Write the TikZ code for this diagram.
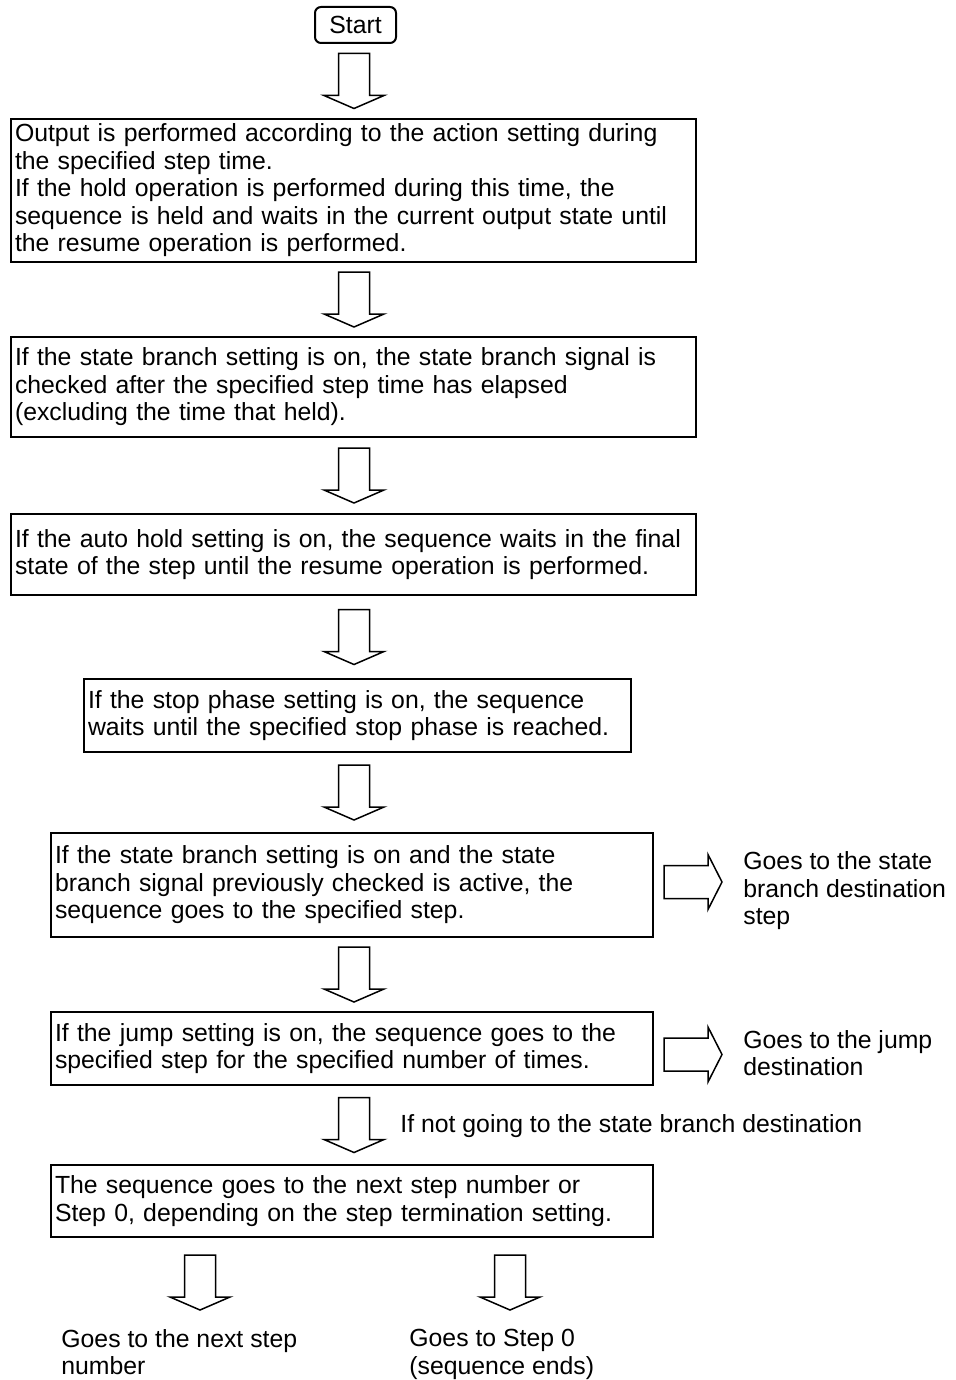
\documentclass[tikz,border=0pt]{standalone}
\usepackage{fontspec}
\setmainfont{Liberation Sans}
\usetikzlibrary{positioning, calc}

\begin{document}
\begin{tikzpicture}[x=0.5pt, y=-0.5pt,
  txt/.style={font={\fontsize{12.4}{13.75}\selectfont}},
  box/.style={txt, draw, line width=1pt, align=left, anchor=north west, inner xsep=2pt, inner ysep=0pt},
  lbl/.style={txt, align=left, anchor=west, inner sep=0pt},
  blockdown/.pic={
    \draw[line width=0.75pt, fill=white] (-15.5,-27.5) -- (15.5,-27.5) -- (15.5,14.5) -- (30,14.5)
      -- (0,27.5) -- (-30,14.5) -- (-15.5,14.5) -- cycle;
  },
  blockright/.pic={
    \draw[line width=0.75pt, fill=white] (0,-16.5) -- (44,-16.5) -- (44,-27.5) -- (58,0)
      -- (44,27.5) -- (44,16.5) -- (0,16.5) -- cycle;
  }]
  % Page frame
  \useasboundingbox (0,0) rectangle (956,1380);

  % Start
  \node[txt, draw, line width=1pt, rounded corners=3pt, minimum width=40.5pt, minimum height=18pt, inner sep=0pt] (start) at (355.5,25) {Start};

  % Step boxes
  \node[box, text width=338.5pt, minimum height=71.5pt] (b1) at (10,118)
    {Output is performed according to the action setting during\\the specified step time.\\If the hold operation is performed during this time, the\\sequence is held and waits in the current output state until\\the resume operation is performed.};
  \node[box, text width=338.5pt, minimum height=50pt] (b2) at (10,336)
    {If the state branch setting is on, the state branch signal is\\checked after the specified step time has elapsed\\(excluding the time that held).};
  \node[box, text width=338.5pt, minimum height=40.5pt] (b3) at (10,513)
    {If the auto hold setting is on, the sequence waits in the final\\state of the step until the resume operation is performed.};
  \node[box, text width=269.5pt, minimum height=36.5pt] (b4) at (83,678)
    {If the stop phase setting is on, the sequence\\waits until the specified stop phase is reached.};
  \node[box, text width=297pt, minimum height=52pt] (b5) at (50,832)
    {If the state branch setting is on and the state\\branch signal previously checked is active, the\\sequence goes to the specified step.};
  \node[box, text width=297pt, minimum height=36.5pt] (b6) at (50,1011)
    {If the jump setting is on, the sequence goes to the\\specified step for the specified number of times.};
  \node[box, text width=297pt, minimum height=36pt] (b7) at (50,1164)
    {The sequence goes to the next step number or\\Step 0, depending on the step termination setting.};

  % Block arrows down the column
  \coordinate (col) at (354,0);
  \foreach \a/\b in {start/b1, b1/b2, b2/b3, b3/b4, b4/b5, b5/b6, b6/b7} {
    \coordinate (m) at ($(\a.south)!0.5!(\b.north)$);
    \pic at (col |- m) {blockdown};
  }

  % Side exits
  \pic at ($(b5.east)+(10,-3)$) {blockright};
  \pic at ($(b6.east)+(10,6)$) {blockright};
  \node[lbl] (g1) at (743,891) {Goes to the state\\branch destination\\step};
  \node[lbl] (g2) at (743,1053) {Goes to the jump\\destination};
  \node[lbl] (g3) at (400,1126) {If not going to the state branch destination};

  % Two endings
  \pic at ($(b7.south)+(-152,44.5)$) {blockdown};
  \pic at ($(b7.south)+(158,44.5)$) {blockdown};
  \node[lbl, anchor=north west] (g4) at (61,1329) {Goes to the next step\\number};
  \node[lbl, anchor=north west] (g5) at (409,1329) {Goes to Step 0\\(sequence ends)};
\end{tikzpicture}
\end{document}
